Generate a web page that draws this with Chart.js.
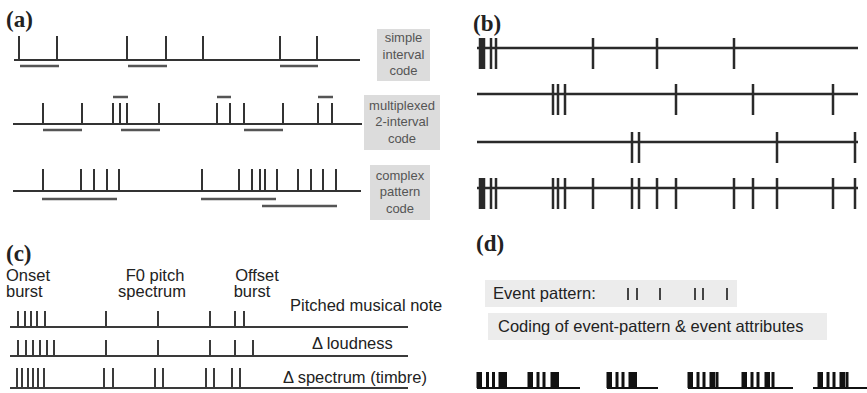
<!DOCTYPE html>
<html lang="en">
<head>
  <meta charset="UTF-8" />
  <title>Spike train coding schemes</title>
  <script src="https://cdn.jsdelivr.net/npm/chart.js"></script>
  <style>
    body {
      margin: 0;
      background: #fff;
    }
    #wrap {
      position: relative;
      width: 867px;
      height: 393px;
      overflow: hidden;
      font-family: 'Liberation Sans', Arial, sans-serif;
    }
    #fig {
      position: absolute;
      left: 0;
      top: 0;
      z-index: 2;
      pointer-events: none;
    }
    .panel {
      position: absolute;
      font-family: 'Liberation Serif', 'Times New Roman', serif;
      font-weight: bold;
      font-size: 23px;
      line-height: 23px;
      color: #222;
    }
    .box {
      position: absolute;
      background: #dcdcdc;
      color: #555;
      font-size: 13px;
      line-height: 16.5px;
      text-align: center;
      display: flex;
      flex-direction: column;
      justify-content: center;
    }
    .lbl {
      position: absolute;
      white-space: nowrap;
      font-size: 16.5px;
      line-height: 16px;
      color: #222;
    }
    .center { transform: translateX(-50%); text-align: center; }
    .wide {
      position: absolute;
      background: #ececec;
      font-size: 16.5px;
      line-height: 27px;
      color: #222;
      white-space: nowrap;
    }
  </style>
</head>
<body>
<div id="wrap">
  <div class="panel" style="left:6px; top:8px;">(a)</div>
  <div class="panel" style="left:473px; top:12px;">(b)</div>
  <div class="panel" style="left:6px; top:242px;">(c)</div>
  <div class="panel" style="left:476px; top:232px;">(d)</div>

  <div class="box" style="left:377px; top:29px; width:53px; height:52px;">simple<br>interval<br>code</div>
  <div class="box" style="left:364px; top:95px; width:76px; height:55px;">multiplexed<br>2-interval<br>code</div>
  <div class="box" style="left:370px; top:165px; width:60px; height:55px;">complex<br>pattern<br>code</div>

  <div class="lbl" style="left:6px; top:267px;">Onset</div>
  <div class="lbl" style="left:6px; top:283px;">burst</div>
  <div class="lbl center" style="left:155px; top:267px;">F0 pitch</div>
  <div class="lbl center" style="left:152px; top:283px;">spectrum</div>
  <div class="lbl center" style="left:257px; top:267px;">Offset</div>
  <div class="lbl center" style="left:252px; top:283px;">burst</div>
  <div class="lbl" style="left:290px; top:297px;">Pitched musical note</div>
  <div class="lbl" style="left:312px; top:335px;">&Delta; loudness</div>
  <div class="lbl" style="left:283px; top:369px;">&Delta; spectrum (timbre)</div>

  <div class="wide" style="left:485px; top:280px; width:244px; padding-left:8px;">Event pattern:</div>
  <div class="wide" style="left:488px; top:313px; width:329px; padding-left:10px;">Coding of event-pattern &amp; event attributes</div>

  <canvas id="fig" width="867" height="393"></canvas>
</div>

<script>
  // (a) spike times and the intervals marked under / over them
  const simpleSpikes = [19, 57, 127, 166, 203, 280, 317];
  const simplePairs = [[20, 59], [128, 167], [280, 318]];

  const multiSpikes = [43, 82, 113, 120, 127, 159, 217, 230, 244, 283, 318, 332];
  const multiBelow = [[43, 82], [121, 160], [244, 283]];
  const multiAbove = [[113, 128], [217, 231], [318, 333]];

  const complexSpikes = [43, 81, 94, 107, 119, 202, 239, 252, 260, 265, 277, 298, 311, 323, 336];
  const complexSpans1 = [[42, 117], [201, 276]];
  const complexSpans2 = [[262, 337]];

  // (b) three input trains and their sum
  const trainB1 = [480, 482, 484, 491, 496, 593, 657, 734];
  const trainB2 = [553, 558, 565, 676, 753, 833];
  const trainB3 = [632, 639, 777, 855];
  const trainB4 = [480, 482, 484, 491, 496, 553, 558, 565, 593, 632, 639, 657, 676, 734, 753, 777, 833, 855];

  // (c) note, loudness and timbre trains
  const noteSpikes = [18, 25, 31, 37, 45, 106, 158, 210, 235, 244];
  const loudSpikes = [18, 26, 33, 40, 47, 54, 106, 158, 210, 235, 253];
  const timbreSpikes = [17, 22, 28, 33, 38, 44, 104, 113, 155, 163, 206, 214, 232, 240];

  // (d) event pattern and coded bursts
  const eventPattern = [628, 637, 660, 695, 703, 727];
  const eventBursts = [
    [478, 480.5, 487.5, 493.5, 500, 502.5, 505.5],
    [529, 531.5, 538, 544, 552, 554.5, 557.5],
    [608, 610.5, 617, 623, 630, 632.5, 635.5],
    [689, 691.5, 698, 704, 711, 713.5, 717],
    [743, 745.5, 752, 758, 766, 768.5, 773],
    [819, 821.5, 828, 834, 841, 843.5, 847]
  ];
  const burstRuns = [[477, 580], [607, 658], [688, 793], [813, 867]];

  // turn spike times into vertical ticks, with a gap after each
  function spikes(times, top, bottom) {
    const pts = [];
    times.forEach(t => {
      pts.push({ x: t, y: top }, { x: t, y: bottom }, { x: t, y: null });
    });
    return pts;
  }

  function spans(list, y) {
    const pts = [];
    list.forEach(s => {
      pts.push({ x: s[0], y: y }, { x: s[1], y: y }, { x: s[1], y: null });
    });
    return pts;
  }

  function ds(data, color, width) {
    return {
      data: data,
      borderColor: color,
      borderWidth: width,
      pointRadius: 0,
      fill: false,
      spanGaps: false,
      tension: 0,
      borderCapStyle: 'butt',
      clip: false
    };
  }

  const datasets = [];

  // panel a
  datasets.push(ds(spans([[14, 360]], 60), '#333', 2));
  datasets.push(ds(spikes(simpleSpikes, 36, 60), '#333', 2));
  datasets.push(ds(spans(simplePairs, 66), '#555', 2.5));

  datasets.push(ds(spans([[13, 362]], 124), '#333', 2));
  datasets.push(ds(spikes(multiSpikes, 103, 124), '#333', 2));
  datasets.push(ds(spans(multiBelow, 130), '#555', 2.5));
  datasets.push(ds(spans(multiAbove, 97), '#555', 2.5));

  datasets.push(ds(spans([[13, 361]], 191), '#333', 2));
  datasets.push(ds(spikes(complexSpikes, 169, 191), '#333', 2));
  datasets.push(ds(spans(complexSpans1, 199), '#555', 2.5));
  datasets.push(ds(spans(complexSpans2, 206), '#555', 2.5));

  // panel b
  [[trainB1, 48], [trainB2, 94], [trainB3, 142], [trainB4, 188]].forEach(r => {
    datasets.push(ds(spans([[477, 858]], r[1]), '#2a2a2a', 2.5));
    datasets.push(ds(spikes(r[0], r[1] - 10, r[1] + 21), '#2a2a2a', 2.5));
  });

  // panel c
  [[noteSpikes, 327, 16], [loudSpikes, 356, 16], [timbreSpikes, 388, 20]].forEach(r => {
    datasets.push(ds(spans([[10, 408]], r[1]), '#3a3a3a', 2));
    datasets.push(ds(spikes(r[0], r[1] - r[2], r[1]), '#3a3a3a', 2));
  });

  // panel d
  datasets.push(ds(spikes(eventPattern, 288, 300), '#333', 1.8));
  datasets.push(ds(spans(burstRuns, 388), '#111', 2));
  eventBursts.forEach(b => {
    datasets.push(ds(spikes(b, 372, 388), '#111', 3));
  });

  new Chart(document.getElementById('fig'), {
    type: 'line',
    data: { datasets: datasets },
    options: {
      responsive: false,
      animation: false,
      devicePixelRatio: 1,
      layout: { padding: 0 },
      plugins: {
        legend: { display: false },
        tooltip: { enabled: false }
      },
      scales: {
        x: { type: 'linear', min: 0, max: 867, display: false },
        y: { type: 'linear', min: 0, max: 393, reverse: true, display: false }
      }
    }
  });
</script>
</body>
</html>
